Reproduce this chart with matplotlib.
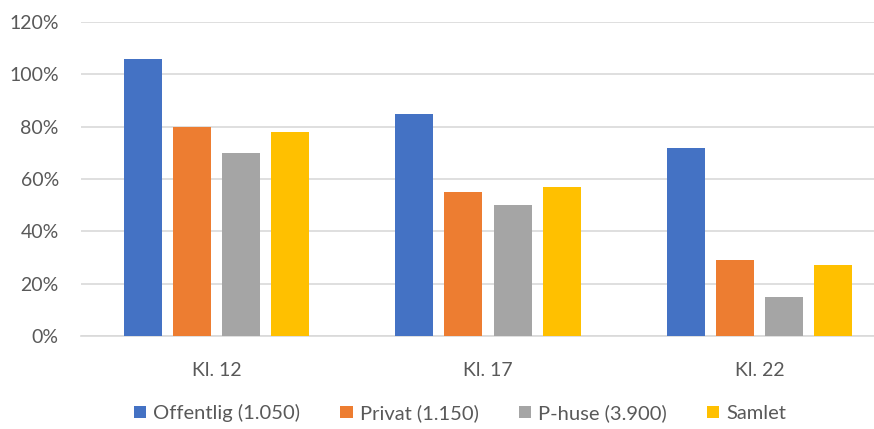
import matplotlib.pyplot as plt
import numpy as np
from matplotlib.ticker import FuncFormatter, MultipleLocator

CATEGORIES = ["Kl. 12", "Kl. 17", "Kl. 22"]
SERIES = ["Offentlig (1.050)", "Privat (1.150)", "P-huse (3.900)", "Samlet"]
OFFENTLIG = [106, 85, 72]
PRIVAT = [80, 55, 29]
PHUSE = [70, 50, 15]
SAMLET = [78, 57, 27]

COLORS = ["#4472C4", "#ED7D31", "#A5A5A5", "#FFC000"]
TEXT = "#595959"
GRID = "#D9D9D9"

plt.rcParams["font.family"] = ["Lato", "DejaVu Sans"]

W, H = 874, 429
fig = plt.figure(figsize=(W / 100, H / 100), dpi=100)
# plot area runs past the right edge, as in the cropped reference
left, right, bottom, top = 81, 895, 336, 22
ax = fig.add_axes([left / W, 1 - bottom / H, (right - left) / W, (bottom - top) / H])

x = np.arange(len(CATEGORIES))
pitch, width = 0.181, 0.14
values = [OFFENTLIG, PRIVAT, PHUSE, SAMLET]
for i, (name, vals, col) in enumerate(zip(SERIES, values, COLORS)):
    ax.bar(x + (i - 1.5) * pitch, vals, width=width, color=col, label=name, zorder=3)

ax.set_xlim(-0.5, 2.5)
ax.set_ylim(0, 120)
ax.yaxis.set_major_locator(MultipleLocator(20))
ax.yaxis.set_major_formatter(FuncFormatter(lambda v, _: f"{v:.0f}%"))
ax.grid(True, axis="y", color=GRID, linewidth=1.2, zorder=0)
for s in ["top", "right", "left"]:
    ax.spines[s].set_visible(False)
ax.spines["bottom"].set_color(GRID)
ax.spines["bottom"].set_linewidth(1.2)

ax.set_xticks(x)
ax.set_xticklabels(CATEGORIES)
ax.tick_params(axis="both", length=0, colors=TEXT, labelsize=14)
ax.tick_params(axis="y", pad=16)
ax.tick_params(axis="x", pad=19)

fig.legend(loc="center", bbox_to_anchor=(460 / W, 1 - 413 / H), ncol=4,
           frameon=False, fontsize=14.5, labelcolor=TEXT,
           handlelength=0.6, handleheight=0.6, handletextpad=0.35,
           columnspacing=2.0)

fig.savefig("out.png", dpi=100, facecolor="white")
